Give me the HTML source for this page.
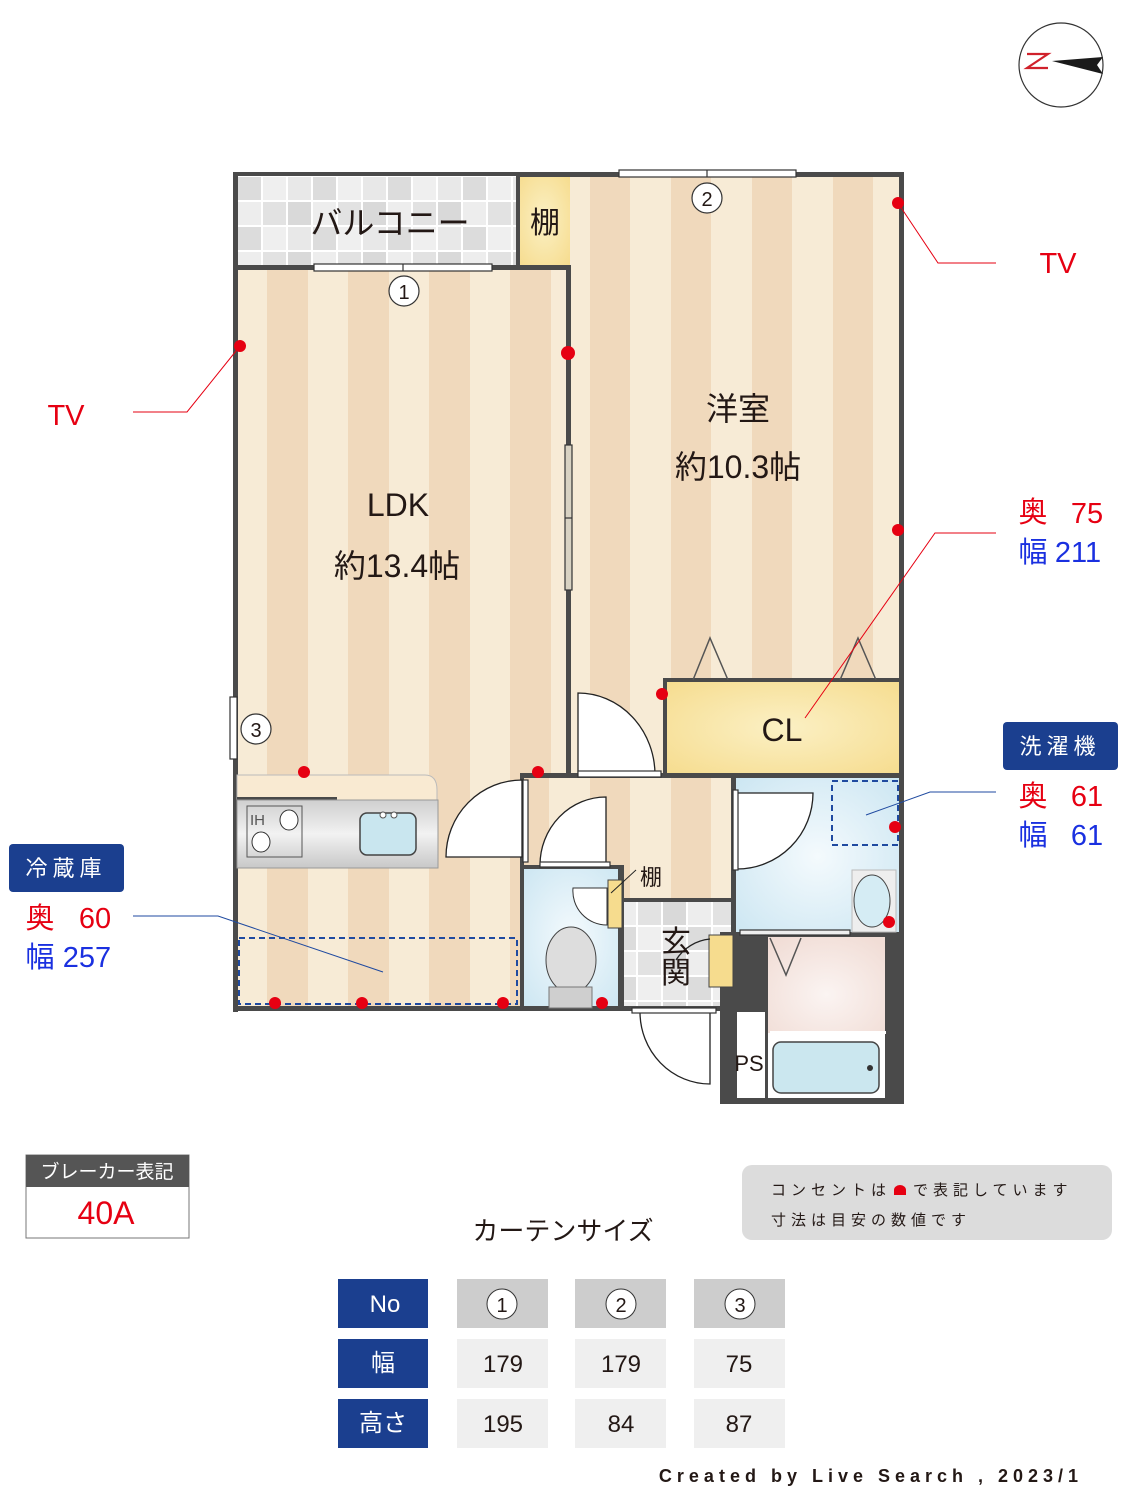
<!DOCTYPE html>
<html><head><meta charset="utf-8"><style>
body{margin:0;background:#fff}
svg{display:block}
text{font-family:"Liberation Sans","Noto Sans CJK JP",sans-serif}
</style></head><body>
<svg width="1125" height="1500" viewBox="0 0 1125 1500" xmlns="http://www.w3.org/2000/svg">
<defs>
<pattern id="st" x="227" y="0" width="81" height="10" patternUnits="userSpaceOnUse">
<rect width="81" height="10" fill="#f7ebd6"/><rect x="40" width="41" height="10" fill="#f0d9bc"/></pattern>
<pattern id="st2" x="549" y="0" width="81" height="10" patternUnits="userSpaceOnUse">
<rect width="81" height="10" fill="#f7ebd6"/><rect x="41" width="40" height="10" fill="#f0d9bc"/></pattern>
<pattern id="tile" x="237" y="176" width="75" height="50" patternUnits="userSpaceOnUse">
<rect width="75" height="50" fill="#fff"/>
<rect x="1" y="1" width="23" height="23" fill="#dcdcdc"/><rect x="26" y="1" width="23" height="23" fill="#efefef"/><rect x="51" y="1" width="23" height="23" fill="#e8e8e8"/>
<rect x="1" y="26" width="23" height="23" fill="#ededed"/><rect x="26" y="26" width="23" height="23" fill="#e2e2e2"/><rect x="51" y="26" width="23" height="23" fill="#d9d9d9"/></pattern>
<radialGradient id="yl" cx="50%" cy="50%" r="70%"><stop offset="0" stop-color="#fbf0c4"/><stop offset="1" stop-color="#f6dc8e"/></radialGradient>
<radialGradient id="bl" cx="50%" cy="50%" r="70%"><stop offset="0" stop-color="#f4fafd"/><stop offset="1" stop-color="#cce6f2"/></radialGradient>
<radialGradient id="pk" cx="50%" cy="60%" r="70%"><stop offset="0" stop-color="#fbf4f2"/><stop offset="1" stop-color="#f1ddd6"/></radialGradient>
<linearGradient id="steel" x1="0" y1="0" x2="0" y2="1"><stop offset="0" stop-color="#cfcfcf"/><stop offset=".5" stop-color="#f2f2f2"/><stop offset="1" stop-color="#c8c8c8"/></linearGradient>
</defs>

<circle cx="1061" cy="65" r="42" fill="#fff" stroke="#333" stroke-width="1.2"/>
<polyline points="1027,54 1048,54 1027,68 1048,68" fill="none" stroke="#d0212b" stroke-width="2.2"/>
<polygon points="1052,61 1103,57 1097,65 1103,74" fill="#1a1a1a"/>

<rect x="233" y="172" width="285" height="96" fill="url(#tile)"/>
<rect x="518" y="175" width="52" height="90" fill="url(#yl)"/>
<rect x="233" y="268" width="337" height="742" fill="url(#st)"/>
<rect x="570" y="172" width="333" height="605" fill="url(#st2)"/>
<rect x="522" y="775" width="211" height="125" fill="url(#st2)"/>
<rect x="665" y="680" width="237" height="95" fill="url(#yl)"/>
<rect x="522" y="868" width="100" height="140" fill="url(#bl)"/>
<rect x="622" y="900" width="111" height="108" fill="url(#tile)"/>
<rect x="735" y="778" width="165" height="157" fill="url(#bl)"/>

<g fill="#4a4a4a">
<rect x="233" y="172" width="5" height="840"/>
<rect x="233" y="172" width="288" height="4"/>
<rect x="518" y="172" width="385" height="5"/>
<rect x="899" y="172" width="5" height="932"/>
<rect x="233" y="265" width="337" height="5"/>
<rect x="516" y="172" width="4" height="96"/>
<rect x="566" y="265" width="5" height="512"/>
<rect x="233" y="1006" width="400" height="5"/>
<rect x="520" y="775" width="4" height="235"/>
<rect x="520" y="773" width="382" height="5"/>
<rect x="663" y="678" width="239" height="4"/>
<rect x="663" y="678" width="4" height="97"/>
<rect x="520" y="865" width="102" height="4"/>
<rect x="618" y="865" width="6" height="145"/>
<rect x="622" y="898" width="113" height="4"/>
<rect x="731" y="775" width="5" height="160"/>
<rect x="733" y="932" width="170" height="5"/>
<rect x="720" y="932" width="48" height="172"/>
<rect x="885" y="932" width="19" height="172"/>
<rect x="720" y="1098" width="184" height="6"/>
<rect x="622" y="1006" width="115" height="5"/>
</g>
<rect x="737" y="1012" width="28" height="86" fill="#fff"/>
<rect x="768" y="1033" width="117" height="65" fill="#fff"/>
<rect x="768" y="937" width="117" height="96" fill="url(#pk)"/>

<path d="M237 775 H425 Q437 775 437 790 V800 H237Z" fill="#f9ead2" stroke="#bbb" stroke-width="1"/>
<rect x="237" y="797" width="100" height="3" fill="#4a4a4a"/>
<rect x="237" y="800" width="201" height="68" fill="url(#steel)" stroke="#999" stroke-width="1"/>
<rect x="247" y="806" width="55" height="51" fill="none" stroke="#555" stroke-width="1"/>
<text x="250" y="825" font-size="15" fill="#555" font-family="Liberation Serif,serif">IH</text>
<ellipse cx="289" cy="820" rx="9" ry="10" fill="#fff" stroke="#333"/>
<ellipse cx="261" cy="842" rx="9" ry="10" fill="#fff" stroke="#333"/>
<rect x="360" y="813" width="56" height="42" rx="7" fill="#c9e6ef" stroke="#444" stroke-width="1.5"/>
<circle cx="383" cy="815" r="3" fill="#fff" stroke="#555"/><circle cx="394" cy="815" r="3" fill="#fff" stroke="#555"/>

<ellipse cx="571" cy="960" rx="25" ry="33" fill="#ddd" stroke="#444"/>
<rect x="549" y="987" width="43" height="21" fill="#cfcfcf" stroke="#777"/>
<rect x="608" y="880" width="14" height="48" fill="#f6dc8e" stroke="#444"/>
<path d="M573 888 H607 V925 A34 34 0 0 1 573 888Z" fill="#fff" stroke="#333"/>
<rect x="709" y="935" width="24" height="52" fill="#f6dc8e" stroke="#444"/>
<rect x="852" y="870" width="44" height="62" fill="#eee" stroke="#bbb"/>
<ellipse cx="872" cy="901" rx="18" ry="26" fill="#d5ecf4" stroke="#444"/>
<rect x="773" y="1042" width="106" height="51" rx="8" fill="#cbe7ef" stroke="#444" stroke-width="1.5"/>
<circle cx="870" cy="1068" r="3" fill="#333"/>
<polyline points="770,938 786,975 801,938" fill="none" stroke="#555" stroke-width="1.5"/>
<rect x="770" y="1031" width="116" height="3" fill="#fff"/>

<g fill="#fff" stroke="#222" stroke-width="1.3">
<path d="M578 775 V693 A77 82 0 0 1 655 775Z"/>
<path d="M522 780 V857 H446 A76 77 0 0 1 522 780Z"/>
<path d="M606 797 V865 H540 A66 68 0 0 1 606 797Z"/>
<path d="M737 793 H813 A76 76 0 0 1 737 869Z"/>
<path d="M710 1012 V1084 A70 72 0 0 1 640 1012Z"/>
<path d="M710 939 A45 45 0 0 0 676 960" fill="none"/>
</g>
<g fill="#fff" stroke="#333" stroke-width="1.2">
<rect x="314" y="264" width="178" height="7"/><line x1="403" y1="264" x2="403" y2="271"/>
<rect x="619" y="170" width="177" height="7"/><line x1="707" y1="170" x2="707" y2="177"/>
<rect x="230" y="697" width="7" height="62"/>
<rect x="565" y="445" width="7" height="145" fill="#d8d2c2"/><line x1="565" y1="518" x2="572" y2="518"/>
<rect x="540" y="862" width="70" height="5"/>
<rect x="523" y="780" width="5" height="82"/>
<rect x="733" y="790" width="5" height="80"/>
<rect x="632" y="1008" width="84" height="5"/>
<rect x="578" y="771" width="83" height="6"/>
<rect x="740" y="930" width="110" height="5" fill="#eee"/>
</g>
<polyline points="693,680 710,638 728,680" fill="none" stroke="#555" stroke-width="1.5"/>
<polyline points="840,680 858,638 876,680" fill="none" stroke="#555" stroke-width="1.5"/>

<rect x="239" y="938" width="278" height="66" fill="none" stroke="#1f4aa0" stroke-width="2" stroke-dasharray="6,4"/>
<rect x="832" y="781" width="66" height="64" fill="none" stroke="#1f4aa0" stroke-width="2" stroke-dasharray="6,4"/>

<g fill="#e60012">
<circle cx="240" cy="346" r="6"/><circle cx="568" cy="353" r="7"/><circle cx="898" cy="203" r="6"/>
<circle cx="898" cy="530" r="6"/><circle cx="662" cy="694" r="6"/><circle cx="304" cy="772" r="6"/>
<circle cx="538" cy="772" r="6"/><circle cx="895" cy="827" r="6"/><circle cx="889" cy="922" r="6"/>
<circle cx="275" cy="1003" r="6"/><circle cx="362" cy="1003" r="6"/><circle cx="503" cy="1003" r="6"/><circle cx="602" cy="1003" r="6"/>
</g>

<polyline points="240,346 187,412 133,412" fill="none" stroke="#e60012" stroke-width="1"/>
<polyline points="898,203 938,263 996,263" fill="none" stroke="#e60012" stroke-width="1"/>
<polyline points="805,718 935,533 996,533" fill="none" stroke="#e60012" stroke-width="1"/>
<polyline points="866,815 930,792 996,792" fill="none" stroke="#1f4aa0" stroke-width="1"/>
<polyline points="133,916 218,916 383,972" fill="none" stroke="#1f4aa0" stroke-width="1"/>
<line x1="611" y1="893" x2="636" y2="870" stroke="#222" stroke-width="1"/>

<g fill="#fff" stroke="#333" stroke-width="1.2">
<circle cx="404" cy="291" r="15"/><circle cx="707" cy="198" r="15"/><circle cx="256" cy="729" r="15"/></g>
<g font-size="20" fill="#231815" text-anchor="middle">
<text x="404" y="299">1</text><text x="707" y="206">2</text><text x="256" y="737">3</text></g>

<g fill="#231815" text-anchor="middle">
<text x="390" y="234" font-size="32">バルコニー</text>
<text x="545" y="233" font-size="30">棚</text>
<text x="398" y="516" font-size="32">LDK</text>
<text x="397" y="577" font-size="32">約13.4帖</text>
<text x="738" y="420" font-size="32">洋室</text>
<text x="738" y="478" font-size="32">約10.3帖</text>
<text x="782" y="741" font-size="32">CL</text>
<text x="651" y="885" font-size="22">棚</text>
<text x="676" y="952" font-size="30">玄</text>
<text x="676" y="983" font-size="30">関</text>
<text x="749" y="1071" font-size="22">PS</text>
</g>

<g font-size="29" text-anchor="middle">
<text x="66" y="425" fill="#e60012">TV</text>
<text x="1058" y="273" fill="#e60012">TV</text>
<text x="1033" y="522" fill="#e60012">奥</text><text x="1087" y="523" fill="#e60012">75</text>
<text x="1033" y="562" fill="#1a30e0">幅</text><text x="1078" y="562" fill="#1a30e0">211</text>
<text x="1033" y="806" fill="#e60012">奥</text><text x="1087" y="806" fill="#e60012">61</text>
<text x="1033" y="845" fill="#1a30e0">幅</text><text x="1087" y="845" fill="#1a30e0">61</text>
<text x="40" y="928" fill="#e60012">奥</text><text x="95" y="928" fill="#e60012">60</text>
<text x="40" y="967" fill="#1a30e0">幅</text><text x="87" y="967" fill="#1a30e0">257</text>
</g>
<rect x="1003" y="722" width="115" height="48" rx="4" fill="#1b3f8f"/>
<text x="1060" y="754" font-size="22" fill="#fff" text-anchor="middle" letter-spacing="5">洗濯機</text>
<rect x="9" y="844" width="115" height="48" rx="4" fill="#1b3f8f"/>
<text x="66" y="876" font-size="22" fill="#fff" text-anchor="middle" letter-spacing="5">冷蔵庫</text>

<rect x="26" y="1155" width="163" height="83" fill="#fff" stroke="#777"/>
<rect x="26" y="1155" width="163" height="32" fill="#555"/>
<text x="107" y="1178" font-size="19" fill="#fff" text-anchor="middle">ブレーカー表記</text>
<text x="106" y="1224" font-size="32" fill="#e60012" text-anchor="middle">40A</text>

<rect x="742" y="1165" width="370" height="75" rx="10" fill="#dcdcdc"/>
<text x="771" y="1195" font-size="15" fill="#231815" letter-spacing="5">コンセントは</text>
<path d="M894 1195 V1190 A6 5 0 0 1 906 1190 V1195Z" fill="#e60012"/>
<text x="913" y="1195" font-size="15" fill="#231815" letter-spacing="5">で表記しています</text>
<text x="771" y="1225" font-size="15" fill="#231815" letter-spacing="5">寸法は目安の数値です</text>

<text x="563" y="1240" font-size="26" fill="#231815" text-anchor="middle">カーテンサイズ</text>
<g fill="#1b3f8f"><rect x="338" y="1279" width="90" height="49"/><rect x="338" y="1339" width="90" height="49"/><rect x="338" y="1399" width="90" height="49"/></g>
<g fill="#cdcdcd"><rect x="457" y="1279" width="91" height="49"/><rect x="575" y="1279" width="91" height="49"/><rect x="694" y="1279" width="91" height="49"/></g>
<g fill="#efefef"><rect x="457" y="1339" width="91" height="49"/><rect x="575" y="1339" width="91" height="49"/><rect x="694" y="1339" width="91" height="49"/>
<rect x="457" y="1399" width="91" height="49"/><rect x="575" y="1399" width="91" height="49"/><rect x="694" y="1399" width="91" height="49"/></g>
<g fill="#fff" stroke="#333"><circle cx="502" cy="1304" r="15"/><circle cx="621" cy="1304" r="15"/><circle cx="740" cy="1304" r="15"/></g>
<g font-size="24" text-anchor="middle" fill="#231815">
<text x="502" y="1312" font-size="20">1</text><text x="621" y="1312" font-size="20">2</text><text x="740" y="1312" font-size="20">3</text>
<text x="503" y="1372">179</text><text x="621" y="1372">179</text><text x="739" y="1372">75</text>
<text x="503" y="1432">195</text><text x="621" y="1432">84</text><text x="739" y="1432">87</text>
</g>
<g font-size="24" text-anchor="middle" fill="#fff">
<text x="385" y="1312">No</text><text x="383" y="1371">幅</text><text x="383" y="1431">高さ</text></g>

<text x="871" y="1482" font-size="18" font-weight="bold" fill="#231815" text-anchor="middle" letter-spacing="5" font-family="Liberation Mono,monospace">Created by Live Search , 2023/1</text>
</svg>
</body></html>
